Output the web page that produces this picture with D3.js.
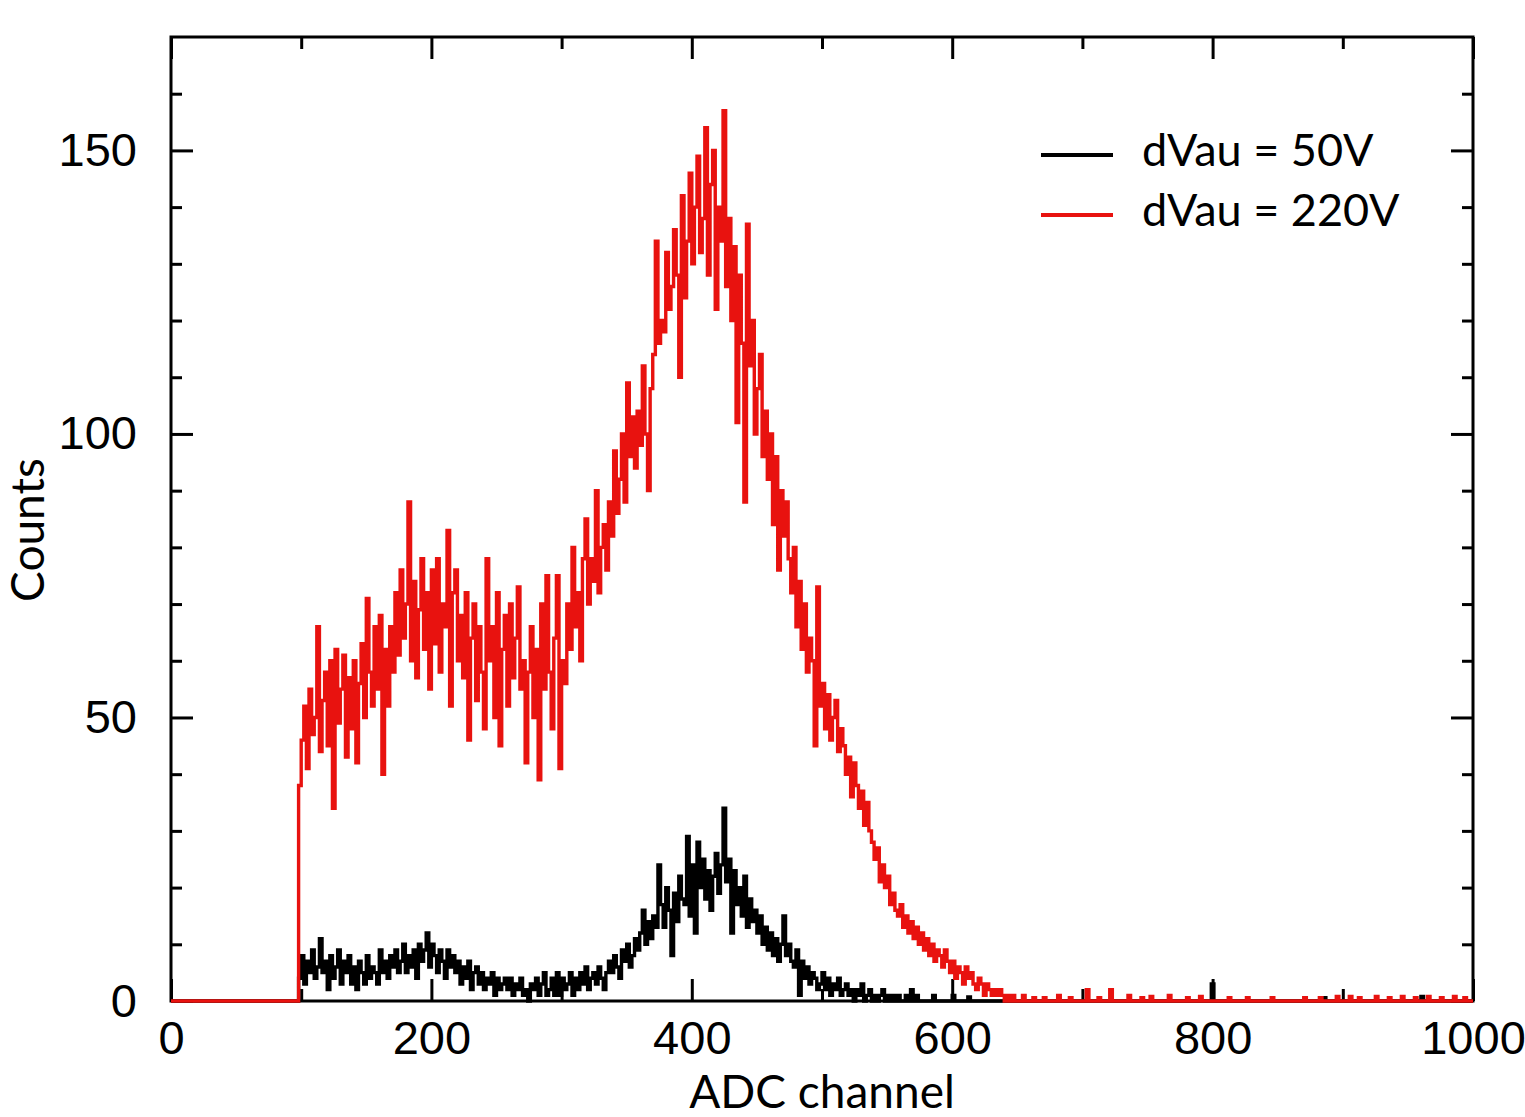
<!DOCTYPE html>
<html>
<head>
<meta charset="utf-8">
<script src="https://cdn.jsdelivr.net/npm/d3@7"></script>
<style>
body { margin: 0; background: #fff; }
.tick line { stroke: #000; stroke-width: 3; }
.tick text { font-family: "Liberation Sans", Arial, sans-serif; font-size: 47px; fill: #000; }
.title { font-family: Lato, "Open Sans", sans-serif; font-size: 46px; fill: #000; }
</style>
</head>
<body>
<div class="chart"></div>
<script>
var width = 1525,
    height = 1117;

// histogram bins (2 ADC channels each), first bin at channel 98
var binStart = 98, binWidth = 2;

// dVau = 220V
var countsHigh = [
  38, 46, 52, 41, 55, 47, 50, 66, 44, 53,
  58, 45, 60, 34, 62, 49, 55, 61, 43, 57,
  48, 60, 42, 56, 63, 50, 71, 58, 52, 66,
  55, 68, 40, 62, 52, 66, 58, 72, 61, 76,
  64, 70, 88, 60, 74, 57, 69, 78, 62, 72,
  55, 76, 63, 78, 58, 70, 66, 83, 52, 72,
  76, 60, 68, 57, 72, 46, 64, 70, 53, 66,
  58, 48, 78, 60, 66, 50, 72, 45, 62, 68,
  52, 70, 57, 64, 73, 55, 60, 42, 58, 66,
  50, 62, 39, 70, 55, 75, 58, 48, 64, 75,
  41, 60, 56, 70, 62, 80, 66, 72, 60, 78,
  85, 70, 78, 74, 90, 72, 80, 84, 76, 88,
  82, 97, 86, 92, 100, 88, 109, 96, 103, 94,
  104, 98, 112, 100, 90, 108, 114, 134, 116, 120,
  118, 132, 122, 126, 136, 128, 110, 142, 124, 134,
  146, 130, 140, 149, 132, 138, 154, 128, 144, 150,
  122, 140, 134, 157, 126, 138, 120, 133, 102, 128,
  116, 88, 137, 112, 120, 100, 108, 114, 96, 104,
  92, 100, 84, 96, 76, 90, 82, 88, 78, 72,
  80, 66, 74, 62, 70, 58, 64, 60, 45, 73,
  52, 56, 48, 54, 46, 50, 53, 44, 48, 45,
  40, 43, 36, 42, 38, 34, 37, 31, 35, 30,
  28, 25, 27, 21, 24, 20, 22, 17, 19, 16,
  15, 17, 13, 15, 12, 14, 11, 13, 10, 12,
  9, 11, 8, 10, 7, 9, 8, 6, 9, 7,
  5, 7, 4, 6, 5, 3, 6, 4, 5, 3,
  2, 4, 3, 1, 3, 2, 1, 2, 1, 2,
  1, 0, 1, 0, 1, 0
];

// dVau = 50V
var countsLow = [
  4, 8, 3, 7, 5, 9, 4, 6, 11, 5,
  7, 2, 8, 4, 6, 9, 3, 7, 5, 8,
  3, 6, 2, 7, 5, 3, 8, 4, 6, 5,
  3, 9, 5, 7, 4, 8, 6, 9, 5, 7,
  10, 5, 8, 6, 9, 4, 10, 7, 9, 12,
  6, 10, 8, 5, 9, 7, 4, 9, 6, 8,
  5, 7, 3, 6, 4, 7, 2, 5, 6, 3,
  5, 2, 4, 3, 5, 1, 4, 2, 3, 4,
  2, 4, 1, 3, 2, 4, 1, 2, 0, 3,
  2, 4, 1, 3, 5, 1, 2, 4, 1, 5,
  1, 4, 2, 3, 5, 1, 4, 2, 5, 3,
  6, 2, 4, 5, 3, 6, 4, 2, 5, 7,
  5, 8, 6, 4, 9, 7, 10, 6, 8, 11,
  9, 12, 16, 10, 14, 11, 15, 13, 24, 17,
  13, 20, 16, 8, 19, 14, 22, 18, 17, 29,
  15, 24, 12, 28, 20, 25, 18, 23, 16, 22,
  26, 19, 24, 34, 21, 25, 12, 23, 17, 20,
  15, 22, 13, 18, 14, 16, 12, 15, 10, 13,
  9, 12, 8, 11, 7, 10, 15, 8, 10, 7,
  6, 9, 1, 7, 4, 6, 3, 5, 4, 2,
  3, 5, 2, 4, 1, 3, 2, 4, 1, 2,
  3, 1, 2, 0, 2, 1, 3, 0, 1, 2,
  0, 1, 0, 1, 2, 0, 1, 0, 1, 0,
  1, 0, 0, 1, 0, 2, 0, 1, 0, 0
];

// isolated single counts further out: [channel, count]
var tailHigh = [[654, 1], [662, 0.6], [670, 0.6], [681, 1], [690, 0.6], [703, 2], [712, 0.6], [721, 2], [735, 1],
  [745, 0.6], [752, 0.8], [766, 1], [780, 0.6], [790, 0.8], [812, 0.6], [826, 0.6], [845, 0.6], [870, 0.6],
  [882, 0.6], [895, 0.8], [905, 0.8], [912, 0.6], [925, 0.8], [935, 0.6], [945, 0.8], [955, 0.6], [965, 0.8],
  [975, 0.6], [985, 0.8], [993, 0.6]];
var tailLow = [[585, 1], [600, 1], [612, 0.7], [645, 0.6], [799, 3], [885, 0.6], [960, 0.8]];

var xMajor = [0, 200, 400, 600, 800, 1000];
var xMinor = [100, 300, 500, 700, 900];
var yMajor = [0, 50, 100, 150];
var yMinor = [10, 20, 30, 40, 60, 70, 80, 90, 110, 120, 130, 140, 160];

var series = [
  {label: "dVau = 50V", color: "#000", counts: countsLow, tail: tailLow},
  {label: "dVau = 220V", color: "#e8120f", counts: countsHigh, tail: tailHigh}
];

var margin = {left: 171, right: 52, top: 37, bottom: 116};

var svg = d3.select(".chart").append("svg")
    .attr("width", width)
    .attr("height", height);

var x = d3.scaleLinear().domain([0, 1000]).range([margin.left, width - margin.right]);
var y = d3.scaleLinear().domain([0, 170]).range([height - margin.bottom, margin.top]);

function toSteps(counts, tail) {
  var pts = [[0, 0]];
  counts.forEach(function(c, i) { pts.push([binStart + i * binWidth, c]); });
  pts.push([binStart + counts.length * binWidth, 0]);
  tail.forEach(function(t) {
    pts.push([t[0], t[1]]);
    pts.push([t[0] + 2, 0]);
  });
  pts.push([1000, 0]);
  return pts;
}

var line = d3.line()
    .x(function(d) { return x(d[0]); })
    .y(function(d) { return y(d[1]); })
    .curve(d3.curveStepAfter);

// axes: ticks point inward on all four sides
function addAxis(axis, tf) {
  var g = svg.append("g").attr("transform", tf).call(axis);
  g.select(".domain").remove();
  g.attr("font-family", "Liberation Sans, Arial, sans-serif").attr("font-size", 47);
  return g;
}
var bottomY = y(0), rightX = x(1000);
var fmt = d3.format("d");

addAxis(d3.axisBottom(x).tickValues(xMajor).tickSize(-22).tickPadding(20).tickFormat(fmt), "translate(0," + bottomY + ")");
addAxis(d3.axisBottom(x).tickValues(xMinor).tickSize(-12).tickFormat(""), "translate(0," + bottomY + ")");
addAxis(d3.axisTop(x).tickValues(xMajor).tickSize(-22).tickFormat(""), "translate(0," + margin.top + ")");
addAxis(d3.axisTop(x).tickValues(xMinor).tickSize(-12).tickFormat(""), "translate(0," + margin.top + ")");
addAxis(d3.axisLeft(y).tickValues(yMajor).tickSize(-22).tickPadding(34).tickFormat(fmt), "translate(" + margin.left + ",0)");
addAxis(d3.axisLeft(y).tickValues(yMinor).tickSize(-11).tickFormat(""), "translate(" + margin.left + ",0)");
addAxis(d3.axisRight(y).tickValues(yMajor).tickSize(-22).tickFormat(""), "translate(" + rightX + ",0)");
addAxis(d3.axisRight(y).tickValues(yMinor).tickSize(-11).tickFormat(""), "translate(" + rightX + ",0)");

svg.append("rect")
    .attr("x", margin.left)
    .attr("y", margin.top)
    .attr("width", rightX - margin.left)
    .attr("height", bottomY - margin.top)
    .attr("fill", "none")
    .attr("stroke", "#000")
    .attr("stroke-width", 3);

svg.selectAll(".series")
    .data(series)
    .enter().append("path")
    .attr("class", "series")
    .attr("fill", "none")
    .attr("stroke", function(d) { return d.color; })
    .attr("stroke-width", 3.4)
    .attr("d", function(d) { return line(toSteps(d.counts, d.tail)); });

// axis titles
svg.append("text")
    .attr("class", "title")
    .attr("x", 822)
    .attr("y", 1108)
    .attr("text-anchor", "middle")
    .text("ADC channel");

svg.append("text")
    .attr("class", "title")
    .attr("transform", "translate(44,530) rotate(-90)")
    .attr("text-anchor", "middle")
    .text("Counts");

// legend
var legend = svg.selectAll(".legend")
    .data(series)
    .enter().append("g")
    .attr("class", "legend")
    .attr("transform", function(d, i) { return "translate(1041," + (155 + i * 60) + ")"; });
legend.append("line")
    .attr("x1", 0).attr("x2", 72)
    .attr("stroke", function(d) { return d.color; })
    .attr("stroke-width", 4);
legend.append("text")
    .attr("class", "title")
    .attr("x", 101)
    .attr("y", 11)
    .style("font-size", "45px")
    .text(function(d) { return d.label; });
</script>
</body>
</html>
